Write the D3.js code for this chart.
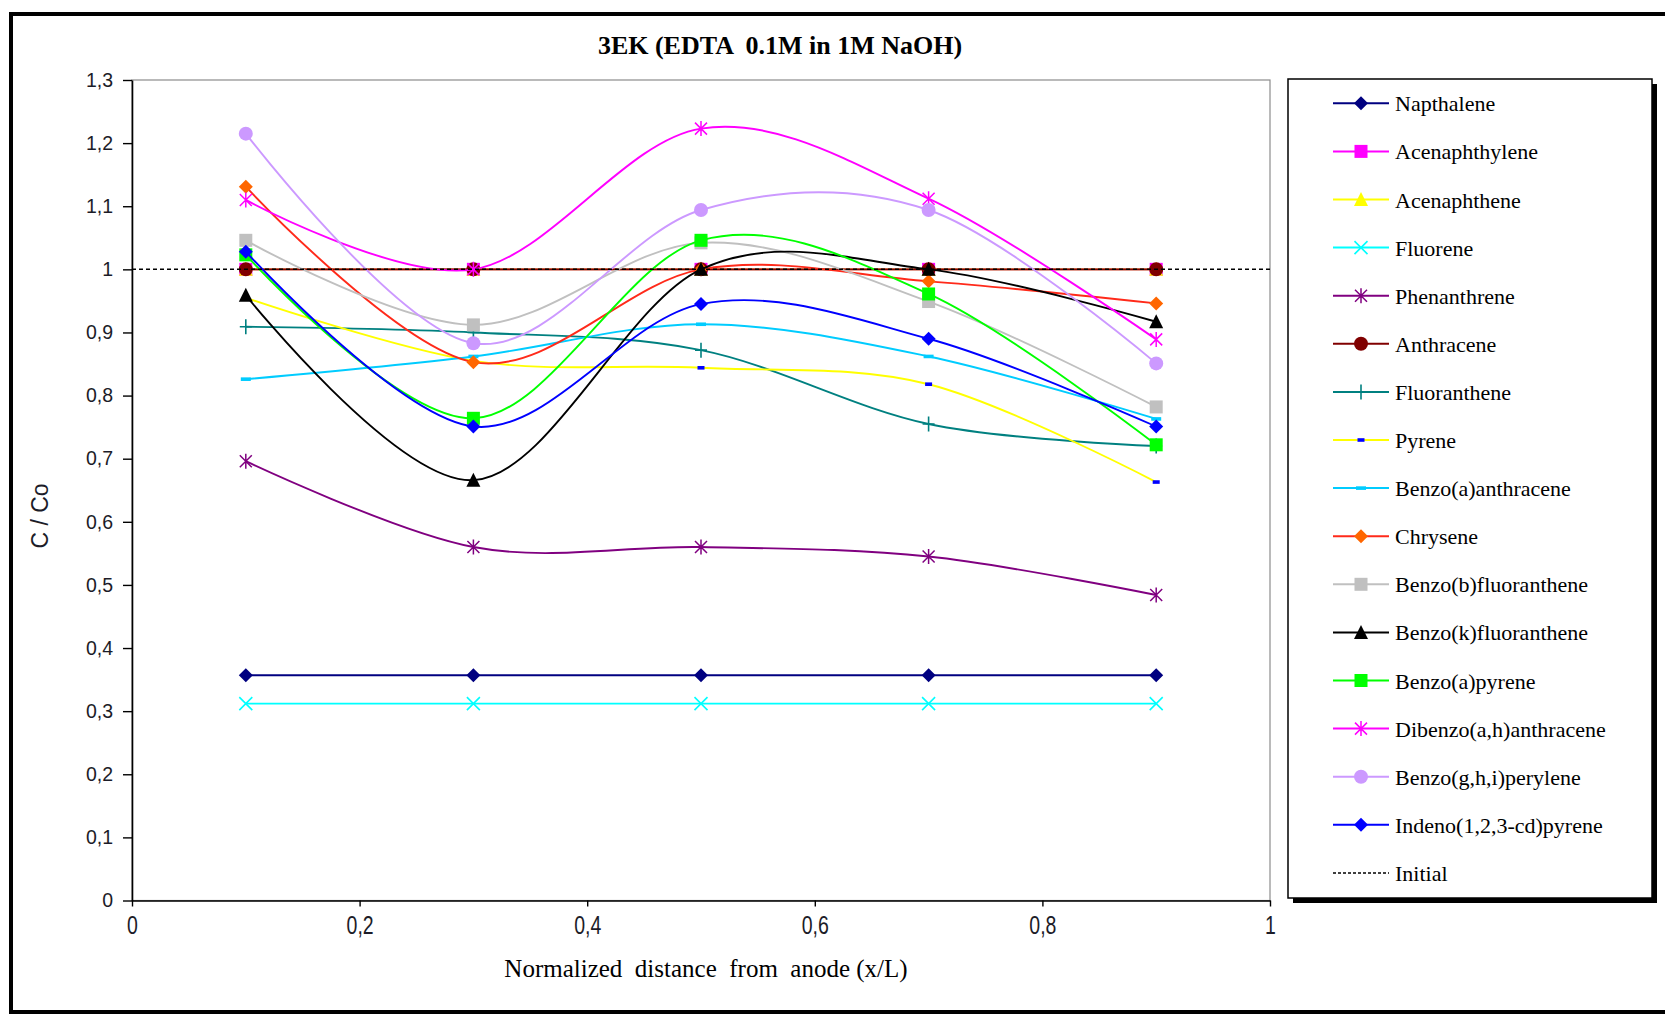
<!DOCTYPE html>
<html>
<head>
<meta charset="utf-8">
<script src="https://cdn.jsdelivr.net/npm/d3@7"></script>
<style>
  html, body { margin: 0; padding: 0; background: #fff; }
  svg { display: block; }
</style>
</head>
<body>
<script>
// ---------------- DATA ----------------
const xValues = [0.1, 0.3, 0.5, 0.7, 0.9];
const seriesNames = [
  "Napthalene", "Acenaphthylene", "Acenaphthene", "Fluorene", "Phenanthrene",
  "Anthracene", "Fluoranthene", "Pyrene", "Benzo(a)anthracene", "Chrysene",
  "Benzo(b)fluoranthene", "Benzo(k)fluoranthene", "Benzo(a)pyrene",
  "Dibenzo(a,h)anthracene", "Benzo(g,h,i)perylene", "Indeno(1,2,3-cd)pyrene"
];
const napthalene          = [0.357, 0.357, 0.357, 0.357, 0.357];
const acenaphthylene      = [1.000, 1.000, 1.000, 1.000, 1.000];
const acenaphthene        = [1.000, 1.000, 1.000, 1.000, 1.000];
const fluorene            = [0.312, 0.312, 0.312, 0.312, 0.312];
const phenanthrene        = [0.696, 0.560, 0.560, 0.545, 0.484];
const anthracene          = [1.000, 1.000, 1.000, 1.000, 1.000];
const fluoranthene        = [0.909, 0.900, 0.872, 0.755, 0.720];
const pyrene              = [0.955, 0.855, 0.844, 0.818, 0.663];
const benzoAAnthracene    = [0.826, 0.862, 0.913, 0.862, 0.763];
const chrysene            = [1.131, 0.853, 1.000, 0.981, 0.946];
const benzoBFluoranthene  = [1.046, 0.912, 1.042, 0.949, 0.782];
const benzoKFluoranthene  = [0.959, 0.666, 1.000, 1.000, 0.917];
const benzoAPyrene        = [1.023, 0.764, 1.046, 0.961, 0.722];
const dibenzoAHAnthracene = [1.110, 1.000, 1.223, 1.112, 0.889];
const benzoGHIPerylene    = [1.215, 0.883, 1.094, 1.094, 0.851];
const indenoPyrene        = [1.028, 0.751, 0.945, 0.890, 0.751];
const initialX = [0, 1];
const initialValues = [1, 1];

const yTicks = [0, 0.1, 0.2, 0.3, 0.4, 0.5, 0.6, 0.7, 0.8, 0.9, 1.0, 1.1, 1.2, 1.3];
const yTickLabels = ["0", "0,1", "0,2", "0,3", "0,4", "0,5", "0,6", "0,7", "0,8", "0,9", "1", "1,1", "1,2", "1,3"];
const xTicks = [0, 0.2, 0.4, 0.6, 0.8, 1.0];
const xTickLabels = ["0", "0,2", "0,4", "0,6", "0,8", "1"];

const chartTitle = "3EK (EDTA  0.1M in 1M NaOH)";
const xTitle = "Normalized  distance  from  anode (x/L)";
const yTitle = "C / Co";

// series styling: [values, line colour, marker type, marker colour]
const seriesStyles = [
  [napthalene, "#000080", "diamond", "#000080"],
  [acenaphthylene, "#FF00FF", "square", "#FF00FF"],
  [acenaphthene, "#FFFF00", "triangle", "#FFFF00"],
  [fluorene, "#00FFFF", "x", "#00FFFF"],
  [phenanthrene, "#800080", "asterisk", "#800080"],
  [anthracene, "#800000", "circle", "#800000"],
  [fluoranthene, "#008080", "plus", "#008080"],
  [pyrene, "#FFFF00", "dashSmall", "#0000FF"],
  [benzoAAnthracene, "#00CCFF", "dash", "#00CCFF"],
  [chrysene, "#FF2A1A", "diamond", "#FF6600"],
  [benzoBFluoranthene, "#C0C0C0", "square", "#C0C0C0"],
  [benzoKFluoranthene, "#000000", "triangle", "#000000"],
  [benzoAPyrene, "#00FF00", "square", "#00FF00"],
  [dibenzoAHAnthracene, "#FF00FF", "asterisk", "#FF00FF"],
  [benzoGHIPerylene, "#CC99FF", "circle", "#CC99FF"],
  [indenoPyrene, "#0000FF", "diamond", "#0000FF"]
];

// ---------------- LAYOUT ----------------
const W = 1665, H = 1016;
const plot = { left: 132, right: 1270, top: 80, bottom: 900.5 };

const svg = d3.select("body").append("svg")
  .attr("width", W).attr("height", H)
  .style("font-family", "'Liberation Sans', Arial, sans-serif");

svg.append("rect").attr("width", W).attr("height", H).attr("fill", "#fff");

// outer frame
svg.append("rect")
  .attr("x", 11).attr("y", 14).attr("width", 1700).attr("height", 998)
  .attr("fill", "none").attr("stroke", "#000").attr("stroke-width", 4);

const x = d3.scaleLinear().domain([0, 1]).range([plot.left, plot.right]);
const y = d3.scaleLinear().domain([0, 1.3]).range([plot.bottom, plot.top]);

// plot area border (grey)
svg.append("rect")
  .attr("x", plot.left).attr("y", plot.top)
  .attr("width", plot.right - plot.left).attr("height", plot.bottom - plot.top)
  .attr("fill", "none").attr("stroke", "#8c8c8c").attr("stroke-width", 1.2);

// axes
const gy = svg.append("g")
  .attr("transform", `translate(${plot.left},0)`)
  .call(d3.axisLeft(y).tickValues(yTicks).tickFormat((d, i) => yTickLabels[i])
    .tickSize(9).tickSizeOuter(0).tickPadding(10));
const gx = svg.append("g")
  .attr("transform", `translate(0,${plot.bottom})`)
  .call(d3.axisBottom(x).tickValues(xTicks).tickFormat((d, i) => xTickLabels[i])
    .tickSize(6).tickSizeOuter(0).tickPadding(8));

[gx, gy].forEach(g => {
  g.select(".domain").attr("stroke", "#000").attr("stroke-width", 1.6);
  g.selectAll(".tick line").attr("stroke", "#000").attr("stroke-width", 1.4);
  g.selectAll(".tick text")
    .attr("fill", "#1c1c28")
    .style("font-family", "'Liberation Sans', Arial, sans-serif")
    .style("font-size", "19.5px");
});
gx.selectAll(".tick text")
  .attr("y", 0).attr("dy", 0)
  .attr("transform", "translate(0,33.8) scale(1,1.3)");

// ---------------- SERIES ----------------
const lineGen = d3.line()
  .x(d => x(d[0])).y(d => y(d[1]))
  .curve(d3.curveCardinal.tension(0));

function drawMarker(g, type, color, cx, cy) {
  const m = g.append("g").attr("transform", `translate(${cx},${cy})`);
  switch (type) {
    case "diamond":
      m.append("path").attr("d", "M0,-7L7,0L0,7L-7,0Z").attr("fill", color);
      break;
    case "square":
      m.append("rect").attr("x", -6.5).attr("y", -6.5).attr("width", 13).attr("height", 13).attr("fill", color);
      break;
    case "triangle":
      m.append("path").attr("d", "M0,-7.5L7,6.5L-7,6.5Z").attr("fill", color);
      break;
    case "circle":
      m.append("circle").attr("r", 7).attr("fill", color);
      break;
    case "x":
      m.append("path").attr("d", "M-6.5,-6.5L6.5,6.5M-6.5,6.5L6.5,-6.5")
        .attr("stroke", color).attr("stroke-width", 1.6).attr("fill", "none");
      break;
    case "asterisk":
      m.append("path").attr("d", "M0,-7.5L0,7.5M-6,-6L6,6M-6,6L6,-6")
        .attr("stroke", color).attr("stroke-width", 1.5).attr("fill", "none");
      break;
    case "plus":
      m.append("path").attr("d", "M0,-7.5L0,7.5M-6,0L6,0")
        .attr("stroke", color).attr("stroke-width", 1.6).attr("fill", "none");
      break;
    case "dashSmall":
      m.append("rect").attr("x", -3.5).attr("y", -1.8).attr("width", 7).attr("height", 3.6).attr("fill", color);
      break;
    case "dash":
      m.append("rect").attr("x", -5).attr("y", -1.8).attr("width", 10).attr("height", 3.6).attr("fill", color);
      break;
  }
}

const seriesLayer = svg.append("g");
seriesStyles.forEach(([vals, lineColor, mType, mColor]) => {
  const pts = xValues.map((xv, i) => [xv, vals[i]]);
  const g = seriesLayer.append("g");
  g.append("path").attr("d", lineGen(pts))
    .attr("fill", "none").attr("stroke", lineColor).attr("stroke-width", 1.9);
  pts.forEach(p => drawMarker(g, mType, mColor, x(p[0]), y(p[1])));
});

// Initial (dashed)
svg.append("path")
  .attr("d", d3.line().x((d, i) => x(initialX[i])).y(d => y(d))(initialValues))
  .attr("fill", "none").attr("stroke", "#000").attr("stroke-width", 1.5)
  .attr("stroke-dasharray", "4,3");

// ---------------- TITLES ----------------
svg.append("text")
  .attr("x", 780).attr("y", 54).attr("text-anchor", "middle")
  .style("font-family", "'Liberation Serif', 'Times New Roman', serif")
  .style("font-weight", "bold").style("font-size", "26px")
  .style("white-space", "pre")
  .text(chartTitle);

svg.append("text")
  .attr("x", 706).attr("y", 977).attr("text-anchor", "middle")
  .style("font-family", "'Liberation Serif', 'Times New Roman', serif")
  .style("font-size", "25px").style("white-space", "pre")
  .text(xTitle);

svg.append("text")
  .attr("transform", "translate(48,516) rotate(-90)")
  .attr("text-anchor", "middle")
  .style("font-family", "'Liberation Sans', Arial, sans-serif")
  .style("font-size", "23px").attr("fill", "#1c1c28")
  .text(yTitle);

// ---------------- LEGEND ----------------
const leg = { x: 1288, y: 79, w: 364, h: 819 };
svg.append("rect")
  .attr("x", leg.x + 5).attr("y", leg.y + 5).attr("width", leg.w).attr("height", leg.h)
  .attr("fill", "#000");
svg.append("rect")
  .attr("x", leg.x).attr("y", leg.y).attr("width", leg.w).attr("height", leg.h)
  .attr("fill", "#fff").attr("stroke", "#000").attr("stroke-width", 1.5);

const legendY = i => 103.3 + i * 48.1;
const legendNames = seriesNames.concat(["Initial"]);
legendNames.forEach((name, i) => {
  const ly = legendY(i);
  const g = svg.append("g");
  if (i < seriesStyles.length) {
    const [, lineColor, mType, mColor] = seriesStyles[i];
    g.append("line").attr("x1", 1333).attr("x2", 1389).attr("y1", ly).attr("y2", ly)
      .attr("stroke", lineColor).attr("stroke-width", 2);
    drawMarker(g, mType, mColor, 1361, ly);
  } else {
    g.append("line").attr("x1", 1333).attr("x2", 1389).attr("y1", ly).attr("y2", ly)
      .attr("stroke", "#000").attr("stroke-width", 1.5).attr("stroke-dasharray", "3,2");
  }
  g.append("text")
    .attr("x", 1395).attr("y", ly + 8)
    .style("font-family", "'Liberation Serif', 'Times New Roman', serif")
    .style("font-size", "22px")
    .text(name);
});
</script>
</body>
</html>
